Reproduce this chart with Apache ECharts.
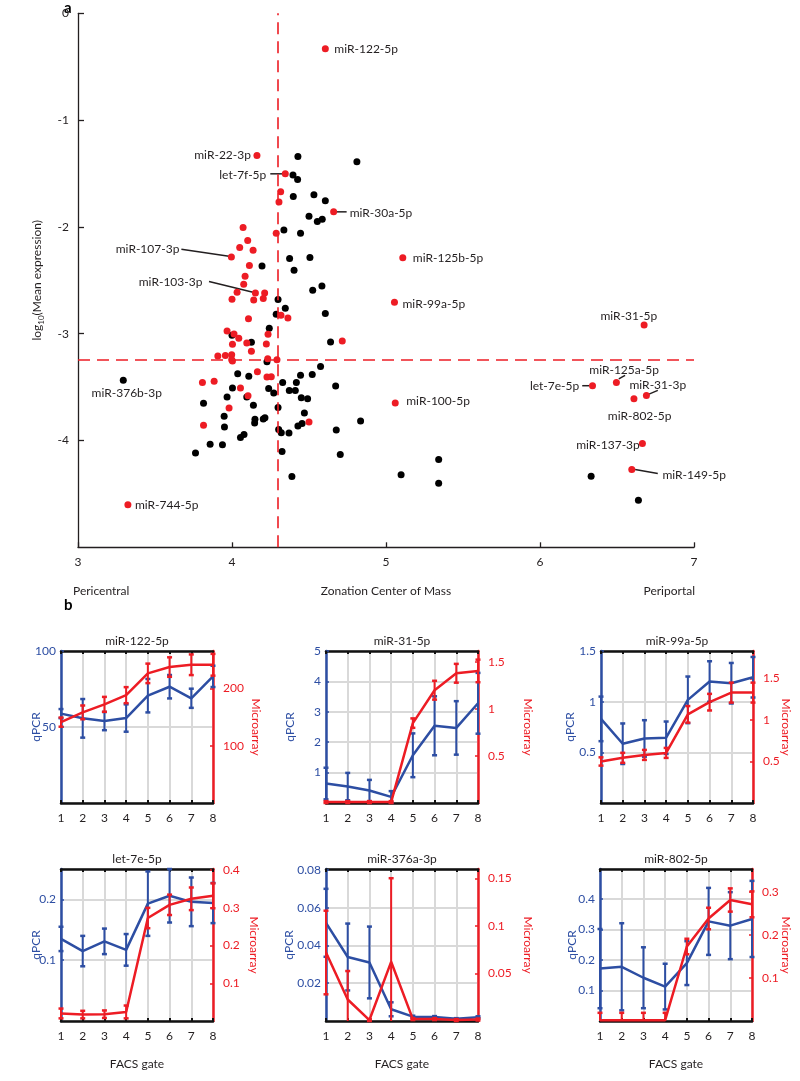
<!DOCTYPE html>
<html><head><meta charset="utf-8">
<script src="https://cdn.jsdelivr.net/npm/echarts@6/dist/echarts.min.js"></script>
<style>html,body{margin:0;padding:0;background:#fff}#c{width:800px;height:1081px}</style>
</head><body><div id="c"></div>
<script>
// ---------- Panel a: scatter data ----------
const blackPoints = [[4.428,-1.34],[4.811,-1.39],[4.396,-1.513],[4.426,-1.556],[4.398,-1.715],[4.532,-1.70],[4.606,-1.756],[4.50,-1.90],[4.554,-1.95],[4.586,-1.928],[4.337,-2.028],[4.445,-2.059],[4.374,-2.296],[4.506,-2.287],[4.195,-2.365],[4.403,-2.406],[4.584,-2.553],[4.524,-2.593],[4.299,-2.680],[4.346,-2.762],[4.287,-2.818],[4.606,-2.812],[4.242,-2.949],[4.0,-3.015],[4.126,-3.08],[4.64,-3.077],[4.227,-3.262],[4.575,-3.306],[4.037,-3.374],[4.109,-3.399],[4.445,-3.39],[4.521,-3.383],[4.329,-3.456],[4.418,-3.458],[4.673,-3.49],[4.003,-3.509],[4.238,-3.512],[4.372,-3.531],[4.411,-3.533],[4.271,-3.556],[3.968,-3.593],[4.096,-3.593],[4.45,-3.599],[4.491,-3.608],[3.815,-3.652],[4.139,-3.671],[4.299,-3.69],[4.47,-3.743],[3.949,-3.774],[4.214,-3.786],[4.149,-3.802],[4.203,-3.799],[4.147,-3.837],[4.835,-3.818],[4.455,-3.84],[4.428,-3.865],[3.951,-3.874],[4.303,-3.896],[4.677,-3.902],[4.32,-3.927],[4.37,-3.93],[4.078,-3.943],[4.055,-3.971],[3.858,-4.034],[3.938,-4.04],[3.763,-4.118],[4.325,-4.102],[4.703,-4.13],[4.389,-4.336],[5.098,-4.32],[5.342,-4.177],[5.342,-4.4],[6.332,-4.334],[6.639,-4.559]];
const redPoints = [[4.316,-1.672],[4.305,-1.766],[4.072,-2.006],[4.287,-2.059],[4.102,-2.128],[4.05,-2.193],[4.137,-2.218],[4.113,-2.362],[4.085,-2.462],[4.076,-2.537],[4.033,-2.612],[4.212,-2.618],[4.0,-2.678],[4.141,-2.684],[4.203,-2.671],[4.318,-2.828],[4.363,-2.853],[4.107,-2.859],[3.968,-2.975],[4.234,-3.006],[4.013,-3.003],[4.044,-3.043],[4.096,-3.087],[4.223,-3.096],[4.003,-3.099],[4.716,-3.068],[4.126,-3.165],[3.908,-3.209],[3.957,-3.203],[3.998,-3.196],[3.998,-3.243],[4.003,-3.255],[4.232,-3.234],[4.292,-3.243],[4.165,-3.356],[4.227,-3.405],[4.255,-3.402],[3.808,-3.458],[3.884,-3.446],[4.055,-3.509],[4.104,-3.58],[3.981,-3.696],[4.50,-3.827],[3.815,-3.858]];
const labeledNames = ['miR-122-5p','miR-22-3p','let-7f-5p','miR-30a-5p','miR-107-3p','miR-103-3p','miR-125b-5p','miR-99a-5p','miR-376b-3p','miR-744-5p','miR-100-5p','miR-31-5p','miR-125a-5p','let-7e-5p','miR-31-3p','miR-802-5p','miR-137-3p','miR-149-5p'];
const labeledX = [4.606,4.162,4.346,4.66,3.996,4.152,5.109,5.055,3.294,3.324,5.06,6.676,6.496,6.341,6.691,6.61,6.665,6.596];
const labeledY = [-0.332,-1.331,-1.503,-1.859,-2.281,-2.618,-2.29,-2.706,-3.437,-4.602,-3.649,-2.918,-3.456,-3.487,-3.578,-3.61,-4.027,-4.271];
const labeledIsRed = [1,1,1,1,1,1,1,1,0,1,1,1,1,1,1,1,1,1];
const centerCut = 4.3;
const exprCut = -3.24;
const xTicksA = [3,4,5,6,7];
const yTicksA = [0,-1,-2,-3,-4];

// ---------- Panel b: FACS gate profiles ----------
const gates = [1,2,3,4,5,6,7,8];
const panelTitles = ['miR-122-5p','miR-31-5p','miR-99a-5p','let-7e-5p','miR-376a-3p','miR-802-5p'];
const qpcrMean = [
  [58.8,55.7,53.9,55.9,70.6,76.5,68.9,83.3],
  [0.64,0.54,0.41,0.2,1.57,2.54,2.47,3.28],
  [0.83,0.585,0.637,0.644,1.018,1.199,1.182,1.241],
  [0.135,0.115,0.131,0.117,0.193,0.206,0.196,0.194],
  [0.052,0.0339,0.031,0.0062,0.0023,0.0021,0.0012,0.002],
  [0.172,0.178,0.142,0.113,0.19,0.327,0.313,0.335]
];
const qpcrErr = [
  [3,12.7,6,9,11,7.7,6.3,7],
  [0.52,0.45,0.35,0.19,0.72,0.97,0.88,1.0],
  [0.22,0.2,0.18,0.16,0.23,0.2,0.2,0.2],
  [0.02,0.025,0.021,0.026,0.053,0.044,0.04,0.033],
  [0.018,0.0177,0.019,0.0037,0.0005,0.0005,0.0003,0.0005],
  [0.13,0.143,0.1,0.075,0.072,0.11,0.11,0.125]
];
const microMean = [
  [141,158,172,188,226,237,241,241],
  [0.01,0.01,0.01,0.01,0.85,1.2,1.38,1.405],
  [0.5,0.544,0.579,0.603,1.067,1.214,1.329,1.329],
  [0.02,0.017,0.018,0.024,0.273,0.308,0.324,0.332],
  [0.0721,0.0226,0.001,0.0623,0.002,0.002,0.001,0.0016],
  [0.002,0.002,0.002,0.002,0.173,0.238,0.281,0.271]
];
const microErr = [
  [8,12,13,14,17,17,18,19],
  [0.01,0.01,0.01,0.01,0.05,0.1,0.1,0.12],
  [0.05,0.06,0.06,0.06,0.1,0.1,0.12,0.12],
  [0.013,0.01,0.01,0.017,0.027,0.027,0.03,0.033],
  [0.044,0.03,0.001,0.088,0.001,0.001,0.001,0.001],
  [0.017,0.017,0.017,0.017,0.018,0.025,0.027,0.03]
];
const leftMax = [100,5,1.5,0.25,0.0805,0.499];
const leftStep = [50,1,0.5,0.1,0.02,0.1];
const rightMax = [265,1.617,1.83,0.403,0.16,0.353];
const rightStep = [100,0.5,0.5,0.1,0.05,0.1];

// ---------- styling ----------
const RED = '#ed1c24', BLUE = '#2d4ea3', INK = '#231f20', GRAY = '#d9d9d9';
const FONT = 'Lato';
const panelLeft = [61,326,601,61,326,600];
const panelTop = [651,651,651,869,869,869];
const panelW = 152, panelH = 152;
const qNameX = [36,290,570,36,289,572];
const mNameX = [256,528,786,254,528,786];
const labelSpec = {
  'miR-122-5p': {ox:9, oy:0, align:'left'},
  'miR-22-3p': {ox:-6, oy:0, align:'right'},
  'let-7f-5p': {ox:-19, oy:1, align:'right', line:[-15,0,-3,0]},
  'miR-30a-5p': {ox:16, oy:1, align:'left', line:[2,0,13,0]},
  'miR-107-3p': {ox:-52, oy:-7.7, align:'right', line:[-50,-7.7,-2.4,-0.7]},
  'miR-103-3p': {ox:-53, oy:-10.7, align:'right', line:[-46.4,-11.4,-1.4,-0.4]},
  'miR-125b-5p': {ox:10, oy:0, align:'left'},
  'miR-99a-5p': {ox:8, oy:2, align:'left'},
  'miR-376b-3p': {ox:3.5, oy:12.7, align:'center'},
  'miR-744-5p': {ox:7, oy:0, align:'left'},
  'miR-100-5p': {ox:11, oy:-2, align:'left'},
  'miR-31-5p': {ox:-15.3, oy:-9, align:'center'},
  'miR-125a-5p': {ox:7.7, oy:-12.3, align:'center', line:[2.4,-3.5,8.7,-7]},
  'let-7e-5p': {ox:-13.3, oy:0, align:'right', line:[-10.3,0,-3.3,0]},
  'miR-31-3p': {ox:11.4, oy:-10, align:'center', line:[2,-1,11.4,-5]},
  'miR-802-5p': {ox:5.7, oy:17.7, align:'center'},
  'miR-137-3p': {ox:-2.6, oy:1.3, align:'right'},
  'miR-149-5p': {ox:30.6, oy:5.7, align:'left', line:[3.3,0,26,4]}
};

function isMult(v, s){ const r = v/s; return Math.abs(r - Math.round(r)) < 1e-6; }

const grid = [{left:78, top:13.3, width:616, height:534}];
const xAxis = [{
  gridIndex:0, type:'value', min:xTicksA[0], max:xTicksA[xTicksA.length-1], interval:1, position:'bottom',
  axisLine:{onZero:false, lineStyle:{color:INK, width:1.3}},
  axisTick:{inside:true, length:5, lineStyle:{color:INK, width:1.3}},
  axisLabel:{color:INK, fontSize:12, fontFamily:FONT, margin:9},
  splitLine:{show:false},
  name:'Zonation Center of Mass', nameLocation:'middle', nameGap:38, nameMoveOverlap:false,
  nameTextStyle:{color:INK, fontSize:12, fontFamily:FONT}
}];
const yAxis = [{
  gridIndex:0, type:'value', min:-5, max:yTicksA[0], interval:1, position:'left',
  axisLine:{onZero:false, lineStyle:{color:INK, width:1.3}},
  axisTick:{inside:true, length:6, lineStyle:{color:INK, width:1.3}},
  axisLabel:{color:INK, fontSize:12, fontFamily:FONT, margin:9, showMinLabel:false},
  splitLine:{show:false},
  name:'{n|log}{s|10}{n|(Mean expression)}', nameLocation:'middle', nameGap:33, nameMoveOverlap:false,
  nameTextStyle:{rich:{n:{fontSize:12, fontFamily:FONT, color:INK, lineHeight:16}, s:{fontSize:8, fontFamily:FONT, color:INK, verticalAlign:'bottom', lineHeight:16}}}
}];

const series = [
  {type:'scatter', xAxisIndex:0, yAxisIndex:0, data:blackPoints, symbolSize:7, itemStyle:{color:'#000', opacity:1}, silent:true,
   markLine:{symbol:'none', silent:true, label:{show:false}, animation:false,
     lineStyle:{color:RED, type:[12,7], width:1.6, opacity:1},
     data:[{xAxis:centerCut},{yAxis:exprCut}]}},
  {type:'scatter', xAxisIndex:0, yAxisIndex:0, data:redPoints, symbolSize:7, itemStyle:{color:RED, opacity:1}, silent:true},
  {type:'custom', xAxisIndex:0, yAxisIndex:0, silent:true,
   data: labeledNames.map((n,i)=>[labeledX[i], labeledY[i], i]),
   renderItem:function(params, api){
     const i = api.value(2); const name = labeledNames[i];
     const p = api.coord([api.value(0), api.value(1)]);
     const s = labelSpec[name]; const ch = [];
     if (s.line) ch.push({type:'line', shape:{x1:p[0]+s.line[0], y1:p[1]+s.line[1], x2:p[0]+s.line[2], y2:p[1]+s.line[3]}, style:{stroke:INK, lineWidth:1.5}});
     ch.push({type:'circle', shape:{cx:p[0], cy:p[1], r:3.5}, style:{fill: labeledIsRed[i] ? RED : '#000'}});
     ch.push({type:'text', x:p[0]+s.ox, y:p[1]+s.oy, style:{text:name, fill:INK, fontSize:12, fontFamily:FONT, align:s.align, verticalAlign:'middle'}});
     return {type:'group', children:ch};
   }}
];

function errRender(color){
  return function(params, api){
    const x = api.value(0);
    const lo = api.coord([x, api.value(1)]);
    const hi = api.coord([x, api.value(2)]);
    const cs = params.coordSys;
    const top = cs.y, bot = cs.y + cs.height;
    const cl = y => Math.max(top, Math.min(bot, y));
    const ch = [{type:'line', shape:{x1:lo[0], y1:cl(lo[1]), x2:lo[0], y2:cl(hi[1])}, style:{stroke:color, lineWidth:2}}];
    [lo, hi].forEach(q => {
      if (q[1] >= top - 0.5 && q[1] <= bot + 0.5) ch.push({type:'line', shape:{x1:q[0]-2.5, y1:q[1], x2:q[0]+2.5, y2:q[1]}, style:{stroke:color, lineWidth:2.5}});
    });
    return {type:'group', children:ch};
  };
}

const graphic = [
  {type:'text', left:64, top:1, style:{text:'a', fontSize:15, fontWeight:'bold', fontFamily:FONT, fill:'#000'}},
  {type:'text', left:64, top:598, style:{text:'b', fontSize:15, fontWeight:'bold', fontFamily:FONT, fill:'#000'}},
  {type:'text', x:73, y:591, style:{text:'Pericentral', fontSize:12, fontFamily:FONT, fill:INK, align:'left', verticalAlign:'middle'}},
  {type:'text', x:695, y:591, style:{text:'Periportal', fontSize:12, fontFamily:FONT, fill:INK, align:'right', verticalAlign:'middle'}}
];

for (let p = 0; p < 6; p++) {
  const gi = p + 1;
  grid.push({left:panelLeft[p], top:panelTop[p], width:panelW, height:panelH});
  const bottomRow = p >= 3;
  const xb = xAxis.length;
  xAxis.push({
    gridIndex:gi, type:'value', min:1, max:8, interval:1, position:'bottom',
    axisLine:{onZero:false, lineStyle:{color:'#111', width:2.5}},
    axisTick:{inside:true, length:3, lineStyle:{color:'#111', width:2}},
    axisLabel:{color:INK, fontSize:12, fontFamily:FONT, margin:9},
    splitLine:{show:true, lineStyle:{color:GRAY, width:2}},
    name: bottomRow ? 'FACS gate' : '', nameLocation:'middle', nameGap:37, nameMoveOverlap:false,
    nameTextStyle:{color:INK, fontSize:12, fontFamily:FONT}
  });
  xAxis.push({
    gridIndex:gi, type:'value', min:1, max:8, interval:1, position:'top',
    axisLine:{onZero:false, lineStyle:{color:'#111', width:2.5}},
    axisTick:{inside:true, length:3, lineStyle:{color:'#111', width:2}},
    axisLabel:{show:false}, splitLine:{show:false}
  });
  const yl = yAxis.length;
  yAxis.push({
    gridIndex:gi, type:'value', min:0, max:leftMax[p], interval:leftStep[p], position:'left',
    axisLine:{show:true, onZero:false, lineStyle:{color:BLUE, width:2.5}},
    axisTick:{show:true, inside:true, length:3, lineStyle:{color:BLUE, width:1.5}},
    axisLabel:{color:BLUE, fontSize:12, fontFamily:FONT, margin:5, showMinLabel:false, showMaxLabel:isMult(leftMax[p], leftStep[p])},
    splitLine:{show:true, lineStyle:{color:GRAY, width:2}}
  });
  yAxis.push({
    gridIndex:gi, type:'value', min:0, max:rightMax[p], interval:rightStep[p], position:'right',
    axisLine:{show:true, onZero:false, lineStyle:{color:RED, width:2.5}},
    axisTick:{show:true, inside:true, length:3, lineStyle:{color:RED, width:1.5}},
    axisLabel:{color:RED, fontSize:12, fontFamily:FONT, margin:10, showMinLabel:false, showMaxLabel:isMult(rightMax[p], rightStep[p])},
    splitLine:{show:false}
  });
  series.push({type:'line', xAxisIndex:xb, yAxisIndex:yl, data:gates.map((g,i)=>[g, qpcrMean[p][i]]), symbol:'none', lineStyle:{color:BLUE, width:2.5}, itemStyle:{color:BLUE}, animation:false, silent:true, z:3});
  series.push({type:'custom', xAxisIndex:xb, yAxisIndex:yl, data:gates.map((g,i)=>[g, qpcrMean[p][i]-qpcrErr[p][i], qpcrMean[p][i]+qpcrErr[p][i]]), renderItem:errRender(BLUE), silent:true, z:3});
  series.push({type:'line', xAxisIndex:xb, yAxisIndex:yl+1, data:gates.map((g,i)=>[g, microMean[p][i]]), symbol:'none', lineStyle:{color:RED, width:2.5}, itemStyle:{color:RED}, animation:false, silent:true, z:4});
  series.push({type:'custom', xAxisIndex:xb, yAxisIndex:yl+1, data:gates.map((g,i)=>[g, microMean[p][i]-microErr[p][i], microMean[p][i]+microErr[p][i]]), renderItem:errRender(RED), silent:true, z:4});
  const cy = panelTop[p] + panelH/2;
  graphic.push({type:'text', x:panelLeft[p] + panelW/2, y:panelTop[p] - 9.5, style:{text:panelTitles[p], fontSize:12, fontFamily:FONT, fill:INK, align:'center', verticalAlign:'middle'}});
  graphic.push({type:'text', x:qNameX[p], y:cy, rotation:Math.PI/2, style:{text:'qPCR', fontSize:12, fontFamily:FONT, fill:BLUE, align:'center', verticalAlign:'middle'}});
  graphic.push({type:'text', x:mNameX[p], y:cy, rotation:-Math.PI/2, style:{text:'Microarray', fontSize:12, fontFamily:FONT, fill:RED, align:'center', verticalAlign:'middle'}});
}

const chart = echarts.init(document.getElementById('c'), null, {renderer:'canvas'});
chart.setOption({backgroundColor:'#fff', animation:false, textStyle:{fontFamily:FONT}, grid, xAxis, yAxis, series, graphic});
</script></body></html>
